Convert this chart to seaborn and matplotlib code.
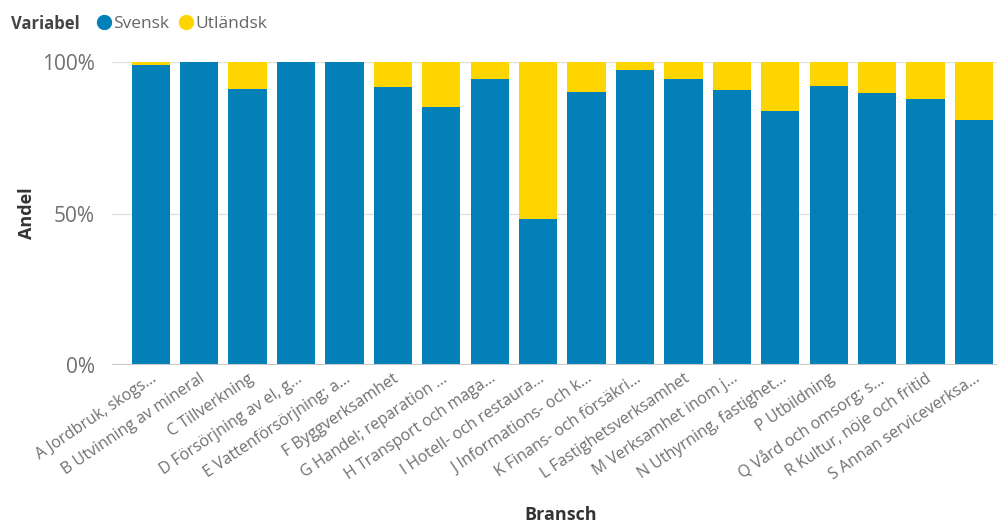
import matplotlib
matplotlib.use("Agg")
import matplotlib.pyplot as plt
import seaborn as sns
import pandas as pd
from matplotlib.lines import Line2D
from matplotlib.ticker import FuncFormatter

branscher = [
    "A Jordbruk, skogs...", "B Utvinning av mineral", "C Tillverkning",
    "D Försörjning av el, g...", "E Vattenförsörjning; a...", "F Byggverksamhet",
    "G Handel; reparation ...", "H Transport och maga...", "I Hotell- och restaura...",
    "J Informations- och k...", "K Finans- och försäkri...", "L Fastighetsverksamhet",
    "M Verksamhet inom j...", "N Uthyrning, fastighet...", "P Utbildning",
    "Q Vård och omsorg; s...", "R Kultur, nöje och fritid", "S Annan serviceverksa...",
]
svensk = [98.9, 100.0, 91.2, 100.0, 100.0, 91.6, 85.0, 94.3, 48.2,
          90.0, 97.4, 94.4, 90.9, 83.8, 92.2, 89.8, 87.8, 80.8]
utlandsk = [1.1, 0.0, 8.8, 0.0, 0.0, 8.4, 15.0, 5.7, 51.8,
            10.0, 2.6, 5.6, 9.1, 16.2, 7.8, 10.2, 12.2, 19.2]

BLUE = "#0380B8"
YELLOW = "#FFD500"

df = pd.DataFrame({"Bransch": branscher, "Svensk": svensk, "Utländsk": utlandsk})

sns.set_theme(style="white")
plt.rcParams["font.family"] = ["Open Sans", "DejaVu Sans"]

fig = plt.figure(figsize=(9.97, 5.23), dpi=100)
ax = fig.add_axes([0.112, 0.302, 0.888, 0.5795])

sns.barplot(data=df, x="Bransch", y="Svensk", color=BLUE, width=0.79,
            saturation=1, ax=ax, linewidth=0)
sns.barplot(data=df, x="Bransch", y="Utländsk", color=YELLOW, width=0.79,
            saturation=1, ax=ax, linewidth=0, bottom=df["Svensk"])

ax.set_ylim(0, 100)
ax.set_xlim(-0.806, 17.475)
ax.set_yticks([0, 50, 100])
ax.yaxis.set_major_formatter(FuncFormatter(lambda v, p: f"{v:.0f}%"))
for y in [50, 100]:
    ax.axhline(y, color="#E1E1E1", lw=1, zorder=0)
ax.axhline(0, color="#C8C8C8", lw=1.5, zorder=3)
for s in ax.spines.values():
    s.set_visible(False)

ax.tick_params(axis="y", length=0, labelsize=15, labelcolor="#707070", pad=12)
ax.tick_params(axis="x", length=0, labelsize=11.5, labelcolor="#707070", pad=4)
plt.setp(ax.get_xticklabels(), rotation=34, ha="right", rotation_mode="anchor")

ax.set_xlabel("Bransch", fontsize=13, fontweight="bold", color="#333333")
ax.set_ylabel("Andel", fontsize=13, fontweight="bold", color="#333333")
ax.xaxis.set_label_coords(0.507, -0.465)
ax.yaxis.set_label_coords(-0.085, 0.5)

fig.text(0.011, 0.955, "Variabel", fontsize=12, fontweight="bold", color="#444444",
         va="center")
handles = [Line2D([], [], marker="o", ls="", color=BLUE, markersize=10),
           Line2D([], [], marker="o", ls="", color=YELLOW, markersize=10)]
fig.legend(handles, ["Svensk", "Utländsk"], loc="center left",
           bbox_to_anchor=(0.096, 0.955), ncol=2, frameon=False, fontsize=12.5,
           handletextpad=0.0, columnspacing=0.5, labelcolor="#666666",
           handlelength=1.0, borderaxespad=0, borderpad=0)

fig.savefig("out.png", dpi=100)
